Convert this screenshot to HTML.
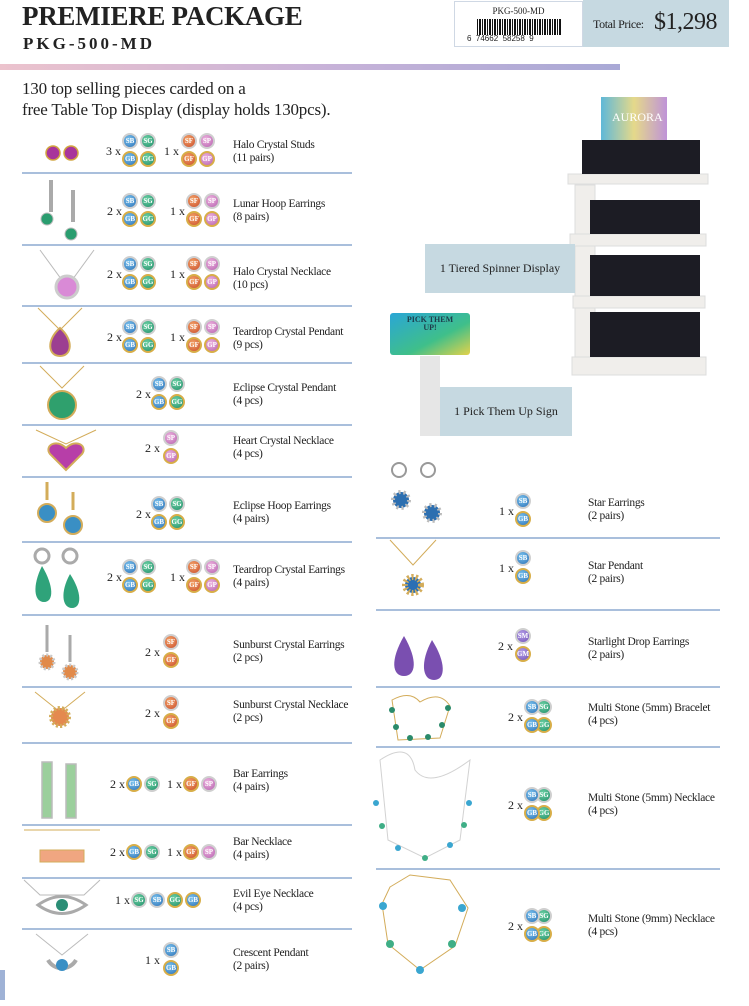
<!DOCTYPE html>
<html><head><meta charset="utf-8"><style>
*{margin:0;padding:0;box-sizing:border-box}
body{width:749px;height:1006px;background:#fff;position:relative;overflow:hidden;font-family:"Liberation Serif",serif;color:#222}
.a{position:absolute}
.t{position:absolute;font-size:11.5px;line-height:13px;white-space:nowrap;letter-spacing:-0.3px}
.q{position:absolute;font-size:12px;line-height:14px;white-space:nowrap}
.hl{position:absolute;height:1.5px;background:#a9bfdc}
.c{position:absolute;width:16px;height:16px;border-radius:50%;border:2px solid #cfcfcf;font-size:7px;line-height:12px;text-align:center;color:#fff;font-weight:bold;font-style:normal}
.gd{border-color:#d8ae48}
.B{background:radial-gradient(circle at 40% 35%,#7cc4ef,#2a6fb5)}
.G{background:radial-gradient(circle at 40% 35%,#6fd3a7,#1f8c68)}
.F{background:radial-gradient(circle at 40% 35%,#f4a56a,#c94b2a)}
.P{background:radial-gradient(circle at 40% 35%,#efb5e0,#b45fae)}
.M{background:radial-gradient(circle at 40% 35%,#b7a2e8,#6f4fb8)}
.g{position:absolute;width:36px;height:36px}
.g .c:nth-child(1){left:0;top:0}.g .c:nth-child(2){left:18px;top:0}.g .c:nth-child(3){left:0;top:18px}.g .c:nth-child(4){left:18px;top:18px}
.v{position:absolute;width:16px;height:36px}
.v .c:nth-child(1){left:0;top:0}.v .c:nth-child(2){left:0;top:18px}
.o{position:absolute;width:30px;height:36px}
.o .c:nth-child(1){left:12px;top:0}.o .c:nth-child(2){left:0;top:0}.o .c:nth-child(3){left:12px;top:18px}.o .c:nth-child(4){left:0;top:18px}
.box{position:absolute;background:#c6d9e1;font-size:12px;display:flex;align-items:center;justify-content:center}
</style></head><body>

<div class="a" style="left:22px;top:1px;font-size:27px;line-height:30px;font-weight:bold;letter-spacing:-0.3px">PREMIERE PACKAGE</div>
<div class="a" style="left:23px;top:34px;font-size:17px;font-weight:bold;letter-spacing:3px">PKG-500-MD</div>

<div class="a" style="left:454px;top:1px;width:129px;height:46px;border:1px solid #cfd8e4;background:#fff">
  <div class="a" style="left:0;top:4px;width:127px;text-align:center;font-size:9px">PKG-500-MD</div>
  <div class="a" style="left:22px;top:17px;width:84px;height:16px;background:repeating-linear-gradient(90deg,#111 0 1px,#fff 1px 2px,#111 2px 4px,#fff 4px 5px)"></div>
  <div class="a" style="left:12px;top:32px;font-size:8px;font-family:'Liberation Sans',sans-serif">6 &nbsp;74662 &nbsp;58258 &nbsp;9</div>
</div>
<div class="a" style="left:583px;top:0;width:146px;height:47px;background:#c6d9e1"></div>
<div class="a" style="left:593px;top:17px;font-size:12px;letter-spacing:-0.4px">Total Price:</div>
<div class="a" style="left:654px;top:9px;font-size:24px;letter-spacing:-0.5px">$1,298</div>

<div class="a" style="left:0;top:64px;width:620px;height:6px;background:linear-gradient(90deg,#ecc3cd,#c9b3d8 50%,#a9a9d6)"></div>
<div class="a" style="left:22px;top:78px;font-size:17px;line-height:21px;letter-spacing:-0.2px">130 top selling pieces carded on a<br>free Table Top Display (display holds 130pcs).</div>

<div class="hl" style="left:22px;width:330px;top:172px"></div>
<div class="hl" style="left:22px;width:330px;top:244px"></div>
<div class="hl" style="left:22px;width:330px;top:305px"></div>
<div class="hl" style="left:22px;width:330px;top:362px"></div>
<div class="hl" style="left:22px;width:330px;top:424px"></div>
<div class="hl" style="left:22px;width:330px;top:476px"></div>
<div class="hl" style="left:22px;width:330px;top:541px"></div>
<div class="hl" style="left:22px;width:330px;top:614px"></div>
<div class="hl" style="left:22px;width:330px;top:686px"></div>
<div class="hl" style="left:22px;width:330px;top:742px"></div>
<div class="hl" style="left:22px;width:330px;top:824px"></div>
<div class="hl" style="left:22px;width:330px;top:877px"></div>
<div class="hl" style="left:22px;width:330px;top:928px"></div>
<div class="hl" style="left:376px;width:344px;top:537px"></div>
<div class="hl" style="left:376px;width:344px;top:609px"></div>
<div class="hl" style="left:376px;width:344px;top:686px"></div>
<div class="hl" style="left:376px;width:344px;top:746px"></div>
<div class="hl" style="left:376px;width:344px;top:868px"></div>
<div class="a" style="left:0;top:970px;width:5px;height:30px;background:#9fb2d6"></div>

<svg class="a" style="left:0;top:0" width="749" height="1006">
 <defs><linearGradient id="sg" x1="0" y1="0" x2="1" y2="1"><stop offset="0" stop-color="#2aa6d6"/><stop offset=".6" stop-color="#3fbf8a"/><stop offset="1" stop-color="#e3d24a"/></linearGradient>
 <linearGradient id="au" x1="0" y1="0" x2="1" y2="0"><stop offset="0" stop-color="#5fb8d8"/><stop offset=".5" stop-color="#e5d98a"/><stop offset="1" stop-color="#bf93d8"/></linearGradient></defs>
 <g fill="#a8359b" stroke="#d2a640" stroke-width="1.5"><circle cx="53" cy="153" r="7"/><circle cx="71" cy="153" r="7"/></g>
 <g stroke="#aaa" stroke-width="4" fill="none"><line x1="51" y1="180" x2="51" y2="212"/><line x1="73" y1="190" x2="73" y2="222"/></g>
 <g fill="#2a9d6f" stroke="#bbb"><circle cx="47" cy="219" r="6"/><circle cx="71" cy="234" r="6"/></g>
 <path d="M40 250 L67 287 L94 250" stroke="#bbb" fill="none"/><circle cx="67" cy="287" r="11" fill="#d98ad6" stroke="#ccc" stroke-width="3"/>
 <path d="M38 308 L60 330 L82 308" stroke="#d3ac5a" fill="none"/><path d="M60 328 C46 340 48 356 60 356 C72 356 74 340 60 328Z" fill="#9c3f91" stroke="#d3ac5a" stroke-width="2"/>
 <path d="M40 366 L62 388 L84 366" stroke="#d3ac5a" fill="none"/><circle cx="62" cy="405" r="14" fill="#2fa06d" stroke="#d3ac5a" stroke-width="2"/>
 <path d="M36 430 L66 444 L96 430" stroke="#d3ac5a" fill="none"/><path d="M66 470 L50 454 C44 446 56 438 66 448 C76 438 88 446 82 454Z" fill="#b73ea8" stroke="#d3ac5a" stroke-width="2"/>
 <g stroke="#d3ac5a" stroke-width="3" fill="none"><line x1="47" y1="482" x2="47" y2="500"/><line x1="73" y1="492" x2="73" y2="510"/></g>
 <g fill="#3a8fc4" stroke="#d3ac5a" stroke-width="2"><circle cx="47" cy="513" r="9"/><circle cx="73" cy="525" r="9"/></g>
 <g stroke="#aaa" stroke-width="3" fill="none"><circle cx="42" cy="556" r="7"/><circle cx="70" cy="556" r="7"/></g>
 <g fill="#2fa37a"><path d="M42 566 C32 586 34 602 44 602 C54 602 54 586 42 566Z"/><path d="M70 574 C60 592 62 608 72 608 C82 608 82 592 70 574Z"/></g>
 <g fill="#e18a4a" stroke="#c9c9c9" stroke-width="3" stroke-dasharray="2 2"><circle cx="47" cy="662" r="7"/><circle cx="70" cy="672" r="7"/></g>
 <g stroke="#aaa" stroke-width="3"><line x1="47" y1="625" x2="47" y2="652"/><line x1="70" y1="635" x2="70" y2="662"/></g>
 <path d="M35 692 L60 712 L85 692" stroke="#d3ac5a" fill="none"/><circle cx="60" cy="717" r="9" fill="#e4894f" stroke="#d3ac5a" stroke-width="4" stroke-dasharray="2 2"/>
 <g fill="#9bcf9c" stroke="#bbb" stroke-width="1.5"><rect x="42" y="762" width="10" height="56"/><rect x="66" y="764" width="10" height="54"/></g>
 <line x1="24" y1="830" x2="100" y2="830" stroke="#d3ac5a"/><rect x="40" y="850" width="44" height="12" fill="#f0a681" stroke="#d3ac5a"/>
 <path d="M24 880 L40 895 L84 895 L100 880" stroke="#bbb" fill="none"/><path d="M38 905 Q62 888 86 905 Q62 922 38 905Z" fill="#fff" stroke="#aaa" stroke-width="3"/><circle cx="62" cy="905" r="6" fill="#2b8e76"/>
 <path d="M36 934 L62 955 L88 934" stroke="#bbb" fill="none"/><path d="M48 960 A16 16 0 0 0 76 960" stroke="#aaa" stroke-width="4" fill="none"/><circle cx="62" cy="965" r="6" fill="#3a8fc4"/>
 <g stroke="#999" stroke-width="2" fill="none"><circle cx="399" cy="470" r="7"/><circle cx="428" cy="470" r="7"/></g>
 <g fill="#2d6fb0" stroke="#bbb" stroke-width="4" stroke-dasharray="2 3"><circle cx="401" cy="500" r="8"/><circle cx="432" cy="513" r="8"/></g>
 <path d="M390 540 L413 565 L436 540" stroke="#d3ac5a" fill="none"/><circle cx="413" cy="585" r="8" fill="#2a6fb5" stroke="#d3ac5a" stroke-width="6" stroke-dasharray="2 2"/>
 <g fill="#7a4fb0"><path d="M404 636 C390 660 392 676 404 676 C416 676 418 660 404 636Z"/><path d="M432 640 C420 662 422 680 434 680 C446 680 446 662 432 640Z"/></g>
 <path d="M392 700 Q410 690 420 702 Q440 690 450 706 L440 738 L398 740Z" stroke="#d3ac5a" fill="none"/>
 <g fill="#2a8a6a"><circle cx="392" cy="710" r="3"/><circle cx="448" cy="708" r="3"/><circle cx="396" cy="727" r="3"/><circle cx="442" cy="725" r="3"/><circle cx="410" cy="738" r="3"/><circle cx="428" cy="737" r="3"/></g>
 <path d="M380 760 Q410 740 415 770 Q430 790 470 760 L460 840 L425 858 L388 840Z" stroke="#d2d2d2" fill="none"/>
 <g fill="#3aa6d0"><circle cx="376" cy="803" r="3"/><circle cx="469" cy="803" r="3"/><circle cx="398" cy="848" r="3"/><circle cx="450" cy="845" r="3"/></g>
 <g fill="#3fae86"><circle cx="382" cy="826" r="3"/><circle cx="464" cy="825" r="3"/><circle cx="425" cy="858" r="3"/></g>
 <path d="M390 887 L410 875 L450 880 L468 908 L455 946 L420 970 L388 944 L382 904Z" stroke="#d3ac5a" fill="none"/>
 <g fill="#3aa6d0"><circle cx="383" cy="906" r="4"/><circle cx="462" cy="908" r="4"/><circle cx="420" cy="970" r="4"/></g>
 <g fill="#3fae86"><circle cx="390" cy="944" r="4"/><circle cx="452" cy="944" r="4"/></g>
 <rect x="390" y="313" width="80" height="42" rx="3" fill="url(#sg)"/>
 <rect x="420" y="356" width="20" height="80" fill="#e6e6e6"/>
 <rect x="601" y="97" width="66" height="48" fill="url(#au)"/>
 <g fill="#f0eeeb" stroke="#ddd"><rect x="575" y="185" width="20" height="190"/><rect x="568" y="174" width="140" height="10"/><rect x="570" y="234" width="136" height="12"/><rect x="573" y="296" width="132" height="12"/><rect x="572" y="357" width="134" height="18"/></g>
 <g fill="#1c1c24"><rect x="582" y="140" width="118" height="34"/><rect x="590" y="200" width="110" height="34"/><rect x="590" y="255" width="110" height="41"/><rect x="590" y="312" width="110" height="45"/></g>
</svg>
<div class="a" style="left:612px;top:110px;font-size:12px;color:#fff">AURORA</div>
<div class="a" style="left:395px;top:316px;width:70px;text-align:center;font-size:8px;font-weight:bold;line-height:8px;color:#1d3c4a">PICK THEM<br>UP!</div>

<div class="box" style="left:425px;top:244px;width:150px;height:49px">1 Tiered Spinner Display</div>
<div class="box" style="left:440px;top:387px;width:132px;height:49px">1 Pick Them Up Sign</div>

<div class="q" style="left:106px;top:144px">3 x</div><div class="g" style="left:122px;top:133px"><i class="c B">SB</i><i class="c G">SG</i><i class="c gd B">GB</i><i class="c gd G">GG</i></div>
<div class="q" style="left:164px;top:144px">1 x</div><div class="g" style="left:181px;top:133px"><i class="c F">SF</i><i class="c P">SP</i><i class="c gd F">GF</i><i class="c gd P">GP</i></div>
<div class="t" style="left:233px;top:139px">Halo Crystal Studs<br>(11 pairs)</div>

<div class="q" style="left:107px;top:204px">2 x</div><div class="g" style="left:122px;top:193px"><i class="c B">SB</i><i class="c G">SG</i><i class="c gd B">GB</i><i class="c gd G">GG</i></div>
<div class="q" style="left:170px;top:204px">1 x</div><div class="g" style="left:186px;top:193px"><i class="c F">SF</i><i class="c P">SP</i><i class="c gd F">GF</i><i class="c gd P">GP</i></div>
<div class="t" style="left:233px;top:198px">Lunar Hoop Earrings<br>(8 pairs)</div>

<div class="q" style="left:107px;top:267px">2 x</div><div class="g" style="left:122px;top:256px"><i class="c B">SB</i><i class="c G">SG</i><i class="c gd B">GB</i><i class="c gd G">GG</i></div>
<div class="q" style="left:170px;top:267px">1 x</div><div class="g" style="left:186px;top:256px"><i class="c F">SF</i><i class="c P">SP</i><i class="c gd F">GF</i><i class="c gd P">GP</i></div>
<div class="t" style="left:233px;top:266px">Halo Crystal Necklace<br>(10 pcs)</div>

<div class="q" style="left:107px;top:330px">2 x</div><div class="g" style="left:122px;top:319px"><i class="c B">SB</i><i class="c G">SG</i><i class="c gd B">GB</i><i class="c gd G">GG</i></div>
<div class="q" style="left:170px;top:330px">1 x</div><div class="g" style="left:186px;top:319px"><i class="c F">SF</i><i class="c P">SP</i><i class="c gd F">GF</i><i class="c gd P">GP</i></div>
<div class="t" style="left:233px;top:326px">Teardrop Crystal Pendant<br>(9 pcs)</div>

<div class="q" style="left:136px;top:387px">2 x</div><div class="g" style="left:151px;top:376px"><i class="c B">SB</i><i class="c G">SG</i><i class="c gd B">GB</i><i class="c gd G">GG</i></div>
<div class="t" style="left:233px;top:382px">Eclipse Crystal Pendant<br>(4 pcs)</div>

<div class="q" style="left:145px;top:441px">2 x</div><div class="v" style="left:163px;top:430px"><i class="c P">SP</i><i class="c gd P">GP</i></div>
<div class="t" style="left:233px;top:435px">Heart Crystal Necklace<br>(4 pcs)</div>

<div class="q" style="left:136px;top:507px">2 x</div><div class="g" style="left:151px;top:496px"><i class="c B">SB</i><i class="c G">SG</i><i class="c gd B">GB</i><i class="c gd G">GG</i></div>
<div class="t" style="left:233px;top:500px">Eclipse Hoop Earrings<br>(4 pairs)</div>

<div class="q" style="left:107px;top:570px">2 x</div><div class="g" style="left:122px;top:559px"><i class="c B">SB</i><i class="c G">SG</i><i class="c gd B">GB</i><i class="c gd G">GG</i></div>
<div class="q" style="left:170px;top:570px">1 x</div><div class="g" style="left:186px;top:559px"><i class="c F">SF</i><i class="c P">SP</i><i class="c gd F">GF</i><i class="c gd P">GP</i></div>
<div class="t" style="left:233px;top:564px">Teardrop Crystal Earrings<br>(4 pairs)</div>

<div class="q" style="left:145px;top:645px">2 x</div><div class="v" style="left:163px;top:634px"><i class="c F">SF</i><i class="c gd F">GF</i></div>
<div class="t" style="left:233px;top:639px">Sunburst Crystal Earrings<br>(2 pcs)</div>

<div class="q" style="left:145px;top:706px">2 x</div><div class="v" style="left:163px;top:695px"><i class="c F">SF</i><i class="c gd F">GF</i></div>
<div class="t" style="left:233px;top:699px">Sunburst Crystal Necklace<br>(2 pcs)</div>

<div class="q" style="left:110px;top:777px">2 x</div><i class="c gd B" style="left:126px;top:776px">GB</i><i class="c G" style="left:144px;top:776px">SG</i>
<div class="q" style="left:167px;top:777px">1 x</div><i class="c gd F" style="left:183px;top:776px">GF</i><i class="c P" style="left:201px;top:776px">SP</i>
<div class="t" style="left:233px;top:768px">Bar Earrings<br>(4 pairs)</div>

<div class="q" style="left:110px;top:845px">2 x</div><i class="c gd B" style="left:126px;top:844px">GB</i><i class="c G" style="left:144px;top:844px">SG</i>
<div class="q" style="left:167px;top:845px">1 x</div><i class="c gd F" style="left:183px;top:844px">GF</i><i class="c P" style="left:201px;top:844px">SP</i>
<div class="t" style="left:233px;top:836px">Bar Necklace<br>(4 pairs)</div>

<div class="q" style="left:115px;top:893px">1 x</div><i class="c G" style="left:131px;top:892px">SG</i><i class="c B" style="left:149px;top:892px">SB</i><i class="c gd G" style="left:167px;top:892px">GG</i><i class="c gd B" style="left:185px;top:892px">GB</i>
<div class="t" style="left:233px;top:888px">Evil Eye Necklace<br>(4 pcs)</div>

<div class="q" style="left:145px;top:953px">1 x</div><div class="v" style="left:163px;top:942px"><i class="c B">SB</i><i class="c gd B">GB</i></div>
<div class="t" style="left:233px;top:947px">Crescent Pendant<br>(2 pairs)</div>

<div class="q" style="left:499px;top:504px">1 x</div><div class="v" style="left:515px;top:493px"><i class="c B">SB</i><i class="c gd B">GB</i></div>
<div class="t" style="left:588px;top:497px">Star Earrings<br>(2 pairs)</div>

<div class="q" style="left:499px;top:561px">1 x</div><div class="v" style="left:515px;top:550px"><i class="c B">SB</i><i class="c gd B">GB</i></div>
<div class="t" style="left:588px;top:560px">Star Pendant<br>(2 pairs)</div>

<div class="q" style="left:498px;top:639px">2 x</div><div class="v" style="left:515px;top:628px"><i class="c M">SM</i><i class="c gd M">GM</i></div>
<div class="t" style="left:588px;top:636px">Starlight Drop Earrings<br>(2 pairs)</div>

<div class="q" style="left:508px;top:710px">2 x</div><div class="o" style="left:524px;top:699px"><i class="c G">SG</i><i class="c B">SB</i><i class="c gd G">GG</i><i class="c gd B">GB</i></div>
<div class="t" style="left:588px;top:702px">Multi Stone (5mm) Bracelet<br>(4 pcs)</div>

<div class="q" style="left:508px;top:798px">2 x</div><div class="o" style="left:524px;top:787px"><i class="c G">SG</i><i class="c B">SB</i><i class="c gd G">GG</i><i class="c gd B">GB</i></div>
<div class="t" style="left:588px;top:792px">Multi Stone (5mm) Necklace<br>(4 pcs)</div>

<div class="q" style="left:508px;top:919px">2 x</div><div class="o" style="left:524px;top:908px"><i class="c G">SG</i><i class="c B">SB</i><i class="c gd G">GG</i><i class="c gd B">GB</i></div>
<div class="t" style="left:588px;top:913px">Multi Stone (9mm) Necklace<br>(4 pcs)</div>

</body></html>
